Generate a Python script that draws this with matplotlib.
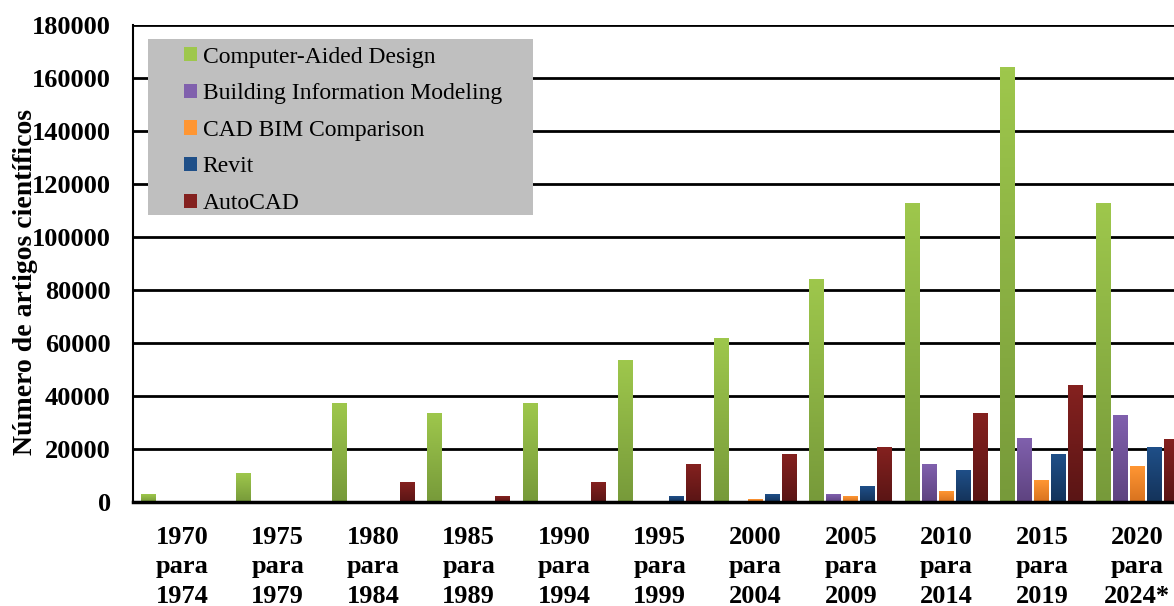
import numpy as np
import matplotlib
matplotlib.use("Agg")
import matplotlib.pyplot as plt
from matplotlib.colors import LinearSegmentedColormap
from matplotlib.patches import Rectangle, Patch

plt.rcParams['font.family'] = ['Liberation Serif', 'DejaVu Serif']

# periods on the x axis
periods = ['1970\npara\n1974', '1975\npara\n1979', '1980\npara\n1984', '1985\npara\n1989',
           '1990\npara\n1994', '1995\npara\n1999', '2000\npara\n2004', '2005\npara\n2009',
           '2010\npara\n2014', '2015\npara\n2019', '2020\npara\n2024*']

# number of articles per series
cad = [3000, 10900, 37200, 33400, 37200, 53300, 61600, 84100, 112800, 164100, 112800]
bim = [0, 0, 0, 0, 0, 0, 0, 3000, 14000, 24000, 32800]
cad_bim = [0, 0, 0, 0, 0, 0, 1000, 1900, 4100, 8300, 13500]
revit = [0, 0, 0, 0, 0, 2200, 3000, 6000, 12000, 18100, 20400]
autocad = [0, 0, 7500, 2200, 7500, 14300, 18100, 20400, 33500, 44100, 23700]

series = [cad, bim, cad_bim, revit, autocad]
names = ['Computer-Aided Design', 'Building Information Modeling', 'CAD BIM Comparison',
         'Revit', 'AutoCAD']
# (top colour, bottom colour) of each series gradient
shades = [('#9ec74c', '#779a3a'), ('#8060ad', '#5e4380'), ('#ff9633', '#d8721f'),
          ('#1f4f88', '#14335a'), ('#84211f', '#5a1515')]

fig = plt.figure(figsize=(11.74, 6.06), dpi=100)
ax = fig.add_axes([0.1133, 0.1716, 0.8867, 0.7871])

x = np.arange(len(periods))
step = 0.178
width = 0.157

for k, vals in enumerate(series):
    top, bottom = shades[k]
    cmap = LinearSegmentedColormap.from_list('g%d' % k, [bottom, top])
    bars = ax.bar(x + (k - 2) * step, vals, width, color=top, zorder=3)
    for b in bars:
        h = b.get_height()
        if h <= 0:
            continue
        grad = np.linspace(0, 1, 100).reshape(-1, 1)
        ax.imshow(grad, extent=[b.get_x(), b.get_x() + b.get_width(), 0, h],
                  origin='lower', aspect='auto', cmap=cmap, zorder=3.1)

ax.set_xlim(-0.516, 10.384)
ax.set_ylim(0, 180000)
ax.set_yticks(np.arange(0, 180001, 20000))
ax.set_yticklabels([str(v) for v in range(0, 180001, 20000)])
ax.set_xticks(x)
ax.set_xticklabels(periods, linespacing=1.36)
ax.tick_params(axis='y', length=0, pad=16, labelsize=19)
ax.tick_params(axis='x', length=0, pad=17, labelsize=19)
for lab in ax.get_xticklabels() + ax.get_yticklabels():
    lab.set_fontweight('bold')

ax.grid(axis='y', color='black', linewidth=2, zorder=1)
ax.set_axisbelow(True)
ax.spines['right'].set_visible(False)
ax.spines['top'].set_visible(False)
ax.spines['left'].set_linewidth(1.5)
ax.spines['bottom'].set_linewidth(2.5)
ax.spines['bottom'].set_zorder(5)

fig.text(26 / 1174, 1 - 282 / 606, 'Número de artigos científicos', rotation=90,
         ha='center', va='center', fontsize=20, fontweight='bold')

# grey legend box
fig.patches.append(Rectangle((148 / 1174, 1 - 215 / 606), 385 / 1174, 176 / 606,
                             transform=fig.transFigure, facecolor='#bfbfbf',
                             edgecolor='none', zorder=4))
handles = [Patch(facecolor=s[0], edgecolor='none') for s in shades]
leg = fig.legend(handles, names, loc='upper left', bbox_to_anchor=(179 / 1174, 1 - 42 / 606),
                 frameon=False, fontsize=17, handlelength=0.55, handleheight=0.55,
                 handletextpad=0.25, labelspacing=0.66, borderpad=0.2, borderaxespad=0)
leg.set_zorder(6)

fig.savefig('out.png', dpi=100)
